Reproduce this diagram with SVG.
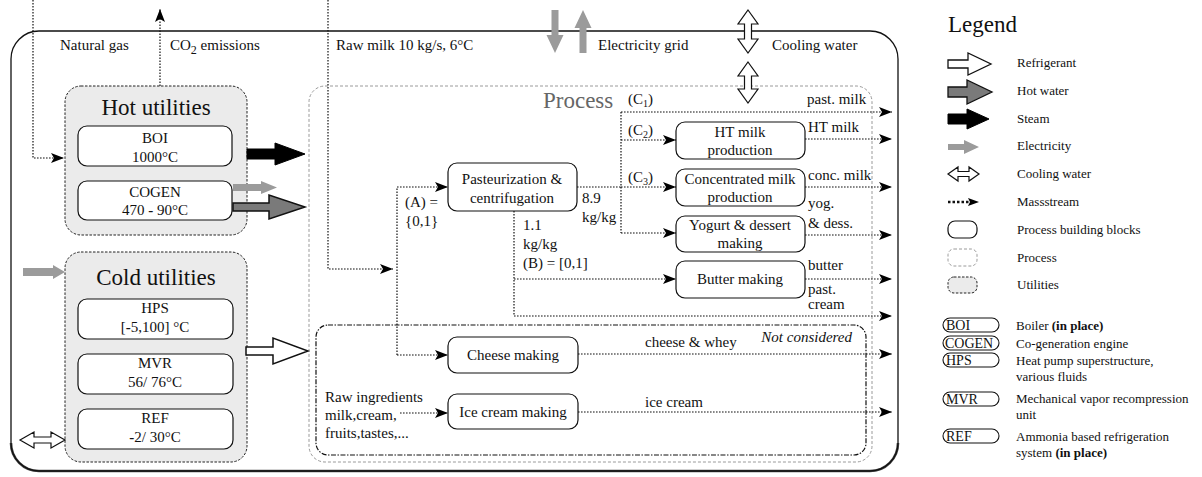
<svg xmlns="http://www.w3.org/2000/svg" width="1202" height="477" viewBox="0 0 1202 477">
  <style>
    text { font-family: "Liberation Serif", "Times New Roman", serif; fill: #111; }
    .t15 { font-size: 15px; }
    .t13 { font-size: 13px; }
    .t14 { font-size: 14px; }
    .big { font-size: 23px; }
    .mid { text-anchor: middle; }
    .block { fill: #fff; stroke: #111; stroke-width: 1.2; }
    .util { fill: #ebebeb; stroke: #222; stroke-width: 1; stroke-dasharray: 2.5 1.5; }
    .proc { fill: none; stroke: #9a9a9a; stroke-width: 1; stroke-dasharray: 3 2; }
    .nc { fill: none; stroke: #111; stroke-width: 1.2; stroke-dasharray: 5 1.5 1.5 1.5; }
    .flow { fill: none; stroke: #111; stroke-width: 1.2; stroke-dasharray: 1.6 1.4; }
    .flowA { fill: none; stroke: #111; stroke-width: 1.2; stroke-dasharray: 1.6 1.4; marker-end: url(#head); }
    .steam { fill: #000; stroke: #000; stroke-width: 1; }
    .hotw { fill: #7a7a7a; stroke: #111; stroke-width: 1.5; }
    .refr { fill: #fff; stroke: #111; stroke-width: 1.5; }
    .elec { fill: #9b9b9b; stroke: none; }
    .cw { fill: #fff; stroke: #111; stroke-width: 1.2; }
    .pill { fill: #fff; stroke: #111; stroke-width: 1.1; }
  </style>
  <defs>
    <marker id="head" markerUnits="userSpaceOnUse" markerWidth="14" markerHeight="10" refX="13" refY="5" orient="auto">
      <path d="M0,0 L13,5 L0,10 L3,5 z" fill="#000"/>
    </marker>
  </defs>

  <!-- plant boundary, with a heavier bottom edge -->
  <path d="M11,443 A28,28 0 0 0 39,471 H870 A28,28 0 0 0 898,443" fill="none" stroke="#4a4a4a" stroke-width="2.6"/>
  <rect x="11" y="31" width="887" height="440" rx="28" fill="none" stroke="#111" stroke-width="1.3"/>

  <!-- boundary labels -->
  <text class="t15" x="60" y="50">Natural gas</text>
  <text class="t15" x="170" y="50">CO<tspan font-size="12" dy="4">2</tspan><tspan dy="-4"> emissions</tspan></text>
  <text class="t15" x="336" y="50">Raw milk 10 kg/s, 6°C</text>
  <text class="t15" x="598" y="50">Electricity grid</text>
  <text class="t15" x="772" y="50">Cooling water</text>

  <!-- process area -->
  <g id="process">
    <rect class="proc" x="309" y="86" width="563" height="376" rx="16"/>
    <text x="543" y="108" font-size="23" style="fill:#666">Process</text>
  </g>
  <g id="not-considered">
    <rect class="nc" x="316" y="325" width="550" height="130" rx="12"/>
    <text class="t15" x="852" y="342" text-anchor="end" font-style="italic">Not considered</text>
  </g>

  <!-- utilities -->
  <g id="hot-utilities">
    <rect class="util" x="65" y="86" width="182" height="149" rx="16"/>
    <text class="big mid" x="156" y="115">Hot utilities</text>
  </g>
  <g id="BOI">
    <rect class="block" x="78" y="126" width="154" height="40" rx="9"/>
    <text class="t15 mid" x="155" y="143">BOI</text>
    <text class="t15 mid" x="155" y="162">1000°C</text>
  </g>
  <g id="COGEN">
    <rect class="block" x="78" y="181" width="154" height="39" rx="9"/>
    <text class="t15 mid" x="155" y="197">COGEN</text>
    <text class="t15 mid" x="155" y="215">470 <tspan font-weight="bold">-</tspan> 90°C</text>
  </g>
  <g id="cold-utilities">
    <rect class="util" x="65" y="252" width="182" height="210" rx="16"/>
    <text class="big mid" x="156" y="285">Cold utilities</text>
  </g>
  <g id="HPS">
    <rect class="block" x="78" y="299" width="155" height="40" rx="9"/>
    <text class="t15 mid" x="155" y="313">HPS</text>
    <text class="t15 mid" x="155" y="332">[<tspan font-weight="bold">-</tspan>5,100] °C</text>
  </g>
  <g id="MVR">
    <rect class="block" x="78" y="354" width="155" height="40" rx="9"/>
    <text class="t15 mid" x="155" y="368">MVR</text>
    <text class="t15 mid" x="155" y="387">56/ 76°C</text>
  </g>
  <g id="REF">
    <rect class="block" x="78" y="409" width="155" height="40" rx="9"/>
    <text class="t15 mid" x="155" y="423">REF</text>
    <text class="t15 mid" x="155" y="442"><tspan font-weight="bold">-</tspan>2/ 30°C</text>
  </g>

  <!-- process building blocks -->
  <g id="pasteurization">
    <rect class="block" x="448" y="163" width="129" height="48" rx="9"/>
    <text class="t15 mid" x="512" y="184">Pasteurization &amp;</text>
    <text class="t15 mid" x="512" y="203">centrifugation</text>
  </g>
  <g id="ht-milk">
    <rect class="block" x="676" y="122" width="129" height="37" rx="9"/>
    <text class="t15 mid" x="740" y="137">HT milk</text>
    <text class="t15 mid" x="740" y="155">production</text>
  </g>
  <g id="concentrated-milk">
    <rect class="block" x="676" y="169" width="129" height="37" rx="9"/>
    <text class="t15 mid" x="740" y="184">Concentrated milk</text>
    <text class="t15 mid" x="740" y="202">production</text>
  </g>
  <g id="yogurt">
    <rect class="block" x="676" y="216" width="129" height="36" rx="9"/>
    <text class="t15 mid" x="740" y="230">Yogurt &amp; dessert</text>
    <text class="t15 mid" x="740" y="248">making</text>
  </g>
  <g id="butter">
    <rect class="block" x="676" y="261" width="129" height="37" rx="9"/>
    <text class="t15 mid" x="740" y="284">Butter making</text>
  </g>
  <g id="cheese">
    <rect class="block" x="448" y="337" width="130" height="36" rx="9"/>
    <text class="t15 mid" x="513" y="360">Cheese making</text>
  </g>
  <g id="ice-cream">
    <rect class="block" x="448" y="394" width="130" height="35" rx="9"/>
    <text class="t15 mid" x="513" y="417">Ice cream making</text>
  </g>

  <!-- connectors -->
  <g id="connectors">
    <!-- mass streams -->
    <path class="flowA" d="M33,0 V158 H64"/>
    <path class="flowA" d="M160,86 V9"/>
    <path class="flowA" d="M328,0 V269 H393"/>
    <path class="flowA" d="M397,355 V187 H448"/>
    <path class="flowA" d="M397,355 H448"/>
    <path class="flow" d="M577,187 H621 M621,112 V233"/>
    <path class="flowA" d="M621,112 H892"/>
    <path class="flowA" d="M621,140 H676"/>
    <path class="flowA" d="M621,187 H676"/>
    <path class="flowA" d="M621,233 H676"/>
    <path class="flowA" d="M514,211 V316 H892"/>
    <path class="flowA" d="M514,279 H676"/>
    <path class="flowA" d="M805,139 H892"/>
    <path class="flowA" d="M805,187 H892"/>
    <path class="flowA" d="M805,235 H892"/>
    <path class="flowA" d="M805,279 H892"/>
    <path class="flowA" d="M578,354 H892"/>
    <path class="flowA" d="M400,413 H448"/>
    <path class="flowA" d="M578,412 H892"/>

    <!-- energy streams -->
    <polygon class="steam" points="247,149 275,149 275,143 305,154 275,165 275,159 247,159"/>
    <polygon class="elec" points="233,184 261,184 261,181 277,187.5 261,194 261,191 233,191"/>
    <polygon class="hotw" points="233,203 269,203 269,195 305,207 269,219 269,211 233,211"/>
    <polygon class="elec" points="23,268 53,268 53,265 65,272 53,279 53,276 23,276"/>
    <polygon class="refr" points="246,347 273,347 273,338 308,351 273,364 273,355 246,355"/>
    <polygon class="cw" points="20,440 34,432 34,437 51,437 51,432 65,440 51,448 51,443 34,443 34,448"/>
    <polygon class="elec" points="551.5,10 558.5,10 558.5,35 563.5,35 555,53 546.5,35 551.5,35"/>
    <polygon class="elec" points="579.5,53 586.5,53 586.5,28 591.5,28 583,10 574.5,28 579.5,28"/>
    <polygon class="cw" points="748,10 758,24 751.5,24 751.5,39 758,39 748,53 738,39 744.5,39 744.5,24 738,24"/>
    <polygon class="cw" points="748,62 758,76 751.5,76 751.5,89 758,89 748,103 738,89 744.5,89 744.5,76 738,76"/>
  </g>

  <!-- stream labels -->
  <g id="labels">
    <text class="t15" x="628" y="104">(C<tspan font-size="10" dy="3">1</tspan><tspan dy="-3">)</tspan></text>
    <text class="t15" x="628" y="135">(C<tspan font-size="10" dy="3">2</tspan><tspan dy="-3">)</tspan></text>
    <text class="t15" x="628" y="182">(C<tspan font-size="10" dy="3">3</tspan><tspan dy="-3">)</tspan></text>
    <text class="t15" x="807" y="104">past. milk</text>
    <text class="t15" x="808" y="132">HT milk</text>
    <text class="t15" x="808" y="180">conc. milk</text>
    <text class="t15" x="808" y="208">yog.</text>
    <text class="t15" x="808" y="228">&amp; dess.</text>
    <text class="t15" x="808" y="270">butter</text>
    <text class="t15" x="808" y="294">past.</text>
    <text class="t15" x="808" y="309">cream</text>
    <text class="t15" x="405" y="207">(A) =</text>
    <text class="t15" x="405" y="226">{0,1}</text>
    <text class="t15" x="582" y="203">8.9</text>
    <text class="t15" x="582" y="222">kg/kg</text>
    <text class="t15" x="523" y="230">1.1</text>
    <text class="t15" x="523" y="249">kg/kg</text>
    <text class="t15" x="523" y="268">(B) = [0,1]</text>
    <text class="t15" x="645" y="347">cheese &amp; whey</text>
    <text class="t15" x="645" y="407">ice cream</text>
    <text class="t15" x="325" y="402">Raw ingredients</text>
    <text class="t15" x="325" y="420">milk,cream,</text>
    <text class="t15" x="325" y="438">fruits,tastes,...</text>
  </g>

  <!-- legend -->
  <g id="legend">
    <text class="big" x="948" y="32">Legend</text>
    <polygon class="refr" points="948,60 968,60 968,53 991,64 968,75 968,68 948,68" style="stroke-width:1.3"/>
    <text class="t13" x="1017" y="67">Refrigerant</text>
    <polygon class="hotw" points="948,87 967,87 967,80 992,92 967,104 967,97 948,97" style="stroke-width:1.3"/>
    <text class="t13" x="1017" y="95">Hot water</text>
    <polygon class="steam" points="948,114 967,114 967,109 989,119 967,129 967,124 948,124"/>
    <text class="t13" x="1017" y="123">Steam</text>
    <polygon class="elec" points="948,144 964,144 964,140 979,147 964,154 964,150 948,150"/>
    <text class="t13" x="1017" y="150">Electricity</text>
    <polygon class="cw" points="948,174 958,167 958,171.5 969,171.5 969,167 979,174 969,181 969,176.5 958,176.5 958,181"/>
    <text class="t13" x="1017" y="178">Cooling water</text>
    <path d="M948,202 H969" stroke="#111" stroke-width="2.4" stroke-dasharray="2.5 2" fill="none"/>
    <path d="M968,198 L979,202 L968,206 L970,202 z" fill="#000"/>
    <text class="t13" x="1017" y="206">Massstream</text>
    <rect class="block" x="948" y="221" width="29" height="17" rx="7"/>
    <text class="t13" x="1017" y="234">Process building blocks</text>
    <rect class="proc" x="948" y="249" width="29" height="17" rx="6"/>
    <text class="t13" x="1017" y="262">Process</text>
    <rect class="util" x="948" y="277" width="29" height="16" rx="6"/>
    <text class="t13" x="1017" y="289">Utilities</text>

    <rect class="pill" x="943" y="318" width="56" height="14" rx="7"/>
    <text class="t14" x="946" y="330">BOI</text>
    <text class="t13" x="1016" y="330">Boiler <tspan font-weight="bold">(in place)</tspan></text>
    <rect class="pill" x="943" y="336" width="56" height="14" rx="7"/>
    <text class="t14" x="945" y="348">COGEN</text>
    <text class="t13" x="1016" y="348">Co-generation engine</text>
    <rect class="pill" x="943" y="353" width="56" height="14" rx="7"/>
    <text class="t14" x="946" y="365">HPS</text>
    <text class="t13" x="1016" y="365">Heat pump superstructure,</text>
    <text class="t13" x="1016" y="381">various fluids</text>
    <rect class="pill" x="943" y="392" width="56" height="14" rx="7"/>
    <text class="t14" x="946" y="404">MVR</text>
    <text class="t13" x="1016" y="403">Mechanical vapor recompression</text>
    <text class="t13" x="1016" y="419">unit</text>
    <rect class="pill" x="943" y="429" width="56" height="14" rx="7"/>
    <text class="t14" x="946" y="441">REF</text>
    <text class="t13" x="1016" y="441">Ammonia based refrigeration</text>
    <text class="t13" x="1016" y="457">system <tspan font-weight="bold">(in place)</tspan></text>
  </g>
</svg>
